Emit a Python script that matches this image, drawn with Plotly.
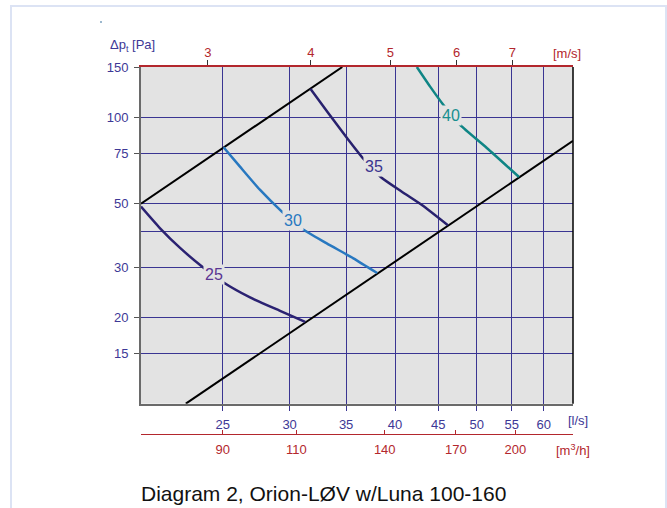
import numpy as np
import plotly.graph_objects as go

# ---- axis ranges and ticks -------------------------------------------------
Q_RANGE = [20, 65]          # airflow, l/s
DP_RANGE = [10, 150]        # total pressure drop, Pa

FLOW_TICKS = [25, 30, 35, 40, 45, 50, 55, 60]
PRESSURE_TICKS = [15, 20, 30, 50, 75, 100, 150]
PRESSURE_EXTRA_GRID = [40]
M3H_TICKS = [90, 110, 140, 170, 200]
VELOCITY_TICKS = [3, 4, 5, 6, 7]
VELOCITY_AT_FLOW = [24.0, 31.8, 39.5, 47.3, 55.1]   # l/s for each m/s tick

# ---- operating limits (black lines) ---------------------------------------
UPPER_Q = [20.0, 34.64]
UPPER_DP = [50.0, 150.0]
LOWER_Q = [22.6, 65.0]
LOWER_DP = [10.0, 82.8]

# ---- sound level curves, dB(A) --------------------------------------------
L25_Q = [20.0, 21.07, 22.25, 23.6, 25.0, 26.93, 29.23, 31.3]
L25_DP = [48.8, 41.0, 35.0, 30.2, 26.6, 23.5, 21.1, 19.3]
L30_Q = [25.05, 26.2, 27.68, 29.37, 31.0, 33.2, 35.7, 38.1]
L30_DP = [78.7, 67.3, 55.8, 46.9, 40.9, 36.3, 32.2, 28.6]
L35_Q = [31.75, 33.35, 35.23, 36.79, 38.5, 40.75, 43.04, 46.2]
L35_DP = [126.0, 103.4, 83.4, 71.0, 61.8, 55.0, 49.4, 42.0]
L40_Q = [42.45, 44.02, 45.65, 47.77, 51.38, 56.1]
L40_DP = [150.0, 128.1, 110.5, 94.1, 78.2, 61.9]

LEVEL_LABELS = ["25", "30", "35", "40"]
LABEL_Q = [24.39, 30.3, 37.76, 46.56]
LABEL_DP = [28.3, 43.5, 67.2, 101.9]

TITLE = "Diagram 2, Orion-LØV w/Luna 100-160"

# ---- styling ---------------------------------------------------------------
W, H = 667, 508
ML, MR, MT, MB = 141, 94, 67, 74
PLOT_BOTTOM_PX = 403.7
FONT = "Liberation Sans, Arial, Helvetica, sans-serif"
BLUE_TXT = "#3d3896"
RED = "#b3272d"
GRID = "#3a3592"
BG = "#e3e3e3"
CURVE_COLORS = ["#2b2272", "#2878c0", "#28216e", "#0f8585"]
LABEL_COLORS = ["#5a3592", "#2878c0", "#3a3590", "#178f8f"]

pw = W - ML - MR
ph = H - MT - MB


def px(xp):
    return (xp - ML) / pw


def py(yp):
    return (H - MB - yp) / ph


ydom0 = (H - MB - PLOT_BOTTOM_PX) / ph
xr = [np.log10(Q_RANGE[0]), np.log10(Q_RANGE[1])]
yr = [np.log10(DP_RANGE[0]), np.log10(DP_RANGE[1])]

fig = go.Figure()

for qs, ds in [(UPPER_Q, UPPER_DP), (LOWER_Q, LOWER_DP)]:
    fig.add_trace(go.Scatter(x=qs, y=ds, mode="lines",
                             line=dict(color="#000000", width=2),
                             hoverinfo="skip", showlegend=False))

curves = [(L25_Q, L25_DP), (L30_Q, L30_DP), (L35_Q, L35_DP), (L40_Q, L40_DP)]
for (qs, ds), col in zip(curves, CURVE_COLORS):
    fig.add_trace(go.Scatter(x=qs, y=ds, mode="lines",
                             line=dict(color=col, width=2.5, shape="spline",
                                       smoothing=0.6),
                             hoverinfo="skip", showlegend=False))

# anchors for the secondary flow / velocity scales
for ax in ["x2", "x3"]:
    fig.add_trace(go.Scatter(x=[30], y=[30], xaxis=ax, yaxis="y",
                             mode="markers", marker=dict(opacity=0),
                             hoverinfo="skip", showlegend=False))

tickfont_blue = dict(family=FONT, size=13, color=BLUE_TXT)
tickfont_red = dict(family=FONT, size=13, color=RED)

fig.update_layout(
    width=W, height=H,
    margin=dict(l=ML, r=MR, t=MT, b=MB, pad=0),
    paper_bgcolor="white",
    plot_bgcolor=BG,
    font=dict(family=FONT),
    showlegend=False,
    xaxis=dict(type="log", range=xr, anchor="y",
               tickvals=FLOW_TICKS, ticktext=[str(v) for v in FLOW_TICKS],
               ticks="outside", ticklen=5, tickcolor=GRID, tickwidth=1,
               tickfont=tickfont_blue, ticklabelstandoff=3,
               showgrid=True, gridcolor=GRID, gridwidth=1,
               showline=True, linecolor="#6a6a6a", linewidth=2,
               zeroline=False),
    xaxis2=dict(type="log", range=xr, overlaying="x", anchor="free",
                position=0, side="bottom",
                tickvals=[v / 3.6 for v in M3H_TICKS],
                ticktext=[str(v) for v in M3H_TICKS],
                ticks="inside", ticklen=4, tickcolor=RED, tickwidth=1,
                tickfont=tickfont_red, ticklabelstandoff=3,
                showgrid=False, showline=True, linecolor=RED, linewidth=1,
                zeroline=False),
    xaxis3=dict(type="log", range=xr, overlaying="x", anchor="y",
                side="top",
                tickvals=VELOCITY_AT_FLOW,
                ticktext=[str(v) for v in VELOCITY_TICKS],
                ticks="outside", ticklen=5, tickcolor="#333333", tickwidth=1,
                tickfont=tickfont_red, ticklabelstandoff=-2,
                showgrid=False, showline=True, linecolor=RED, linewidth=1.5,
                zeroline=False),
    yaxis=dict(type="log", range=yr, domain=[ydom0, 1],
               tickvals=PRESSURE_TICKS, ticktext=[str(v) for v in PRESSURE_TICKS],
               ticks="outside", ticklen=5, tickcolor="#555555", tickwidth=1,
               tickfont=tickfont_blue, ticklabelstandoff=3,
               showgrid=True, gridcolor=GRID, gridwidth=1,
               minor=dict(tickvals=PRESSURE_EXTRA_GRID, showgrid=True,
                          gridcolor=GRID, gridwidth=1, ticks=""),
               showline=True, linecolor="#6a6a6a", linewidth=2,
               zeroline=False),
)

# right border of the plot area and outer frame
fig.add_shape(type="line", xref="paper", yref="paper",
              x0=1, x1=1, y0=ydom0, y1=1,
              line=dict(color="#000000", width=1.5))
fig.add_shape(type="rect", xref="paper", yref="paper",
              x0=px(11), x1=px(666), y0=py(520), y1=py(6),
              line=dict(color="#dce3f4", width=2), fillcolor="rgba(0,0,0,0)")
fig.add_shape(type="circle", xref="paper", yref="paper",
              x0=px(100.2), x1=px(101.8), y0=py(22.8), y1=py(21.2),
              line=dict(width=0), fillcolor="#1f5f8f")

# level labels sitting on the curves
for txt, q, d, col in zip(LEVEL_LABELS, LABEL_Q, LABEL_DP, LABEL_COLORS):
    fig.add_annotation(x=np.log10(q), y=np.log10(d), xref="x", yref="y",
                       text=txt, showarrow=False,
                       xanchor="center", yanchor="middle",
                       font=dict(family=FONT, size=16, color=col),
                       bgcolor=BG, borderpad=1)


def unit_label(xp, yp, text, color):
    fig.add_annotation(x=px(xp), y=py(yp), xref="paper", yref="paper",
                       xanchor="center", yanchor="middle",
                       text=text, showarrow=False,
                       font=dict(family=FONT, size=13, color=color))


unit_label(132, 45, "Δp<sub>t</sub> [Pa]", BLUE_TXT)
unit_label(567, 53, "[m/s]", RED)
unit_label(578, 420, "[l/s]", BLUE_TXT)
unit_label(573, 450, "[m<sup>3</sup>/h]", RED)

fig.add_annotation(x=px(139), y=py(493), xref="paper", yref="paper",
                   xanchor="left", yanchor="middle",
                   text=TITLE, showarrow=False,
                   font=dict(family=FONT, size=21, color="#111111"))

fig.write_html("out.html")
